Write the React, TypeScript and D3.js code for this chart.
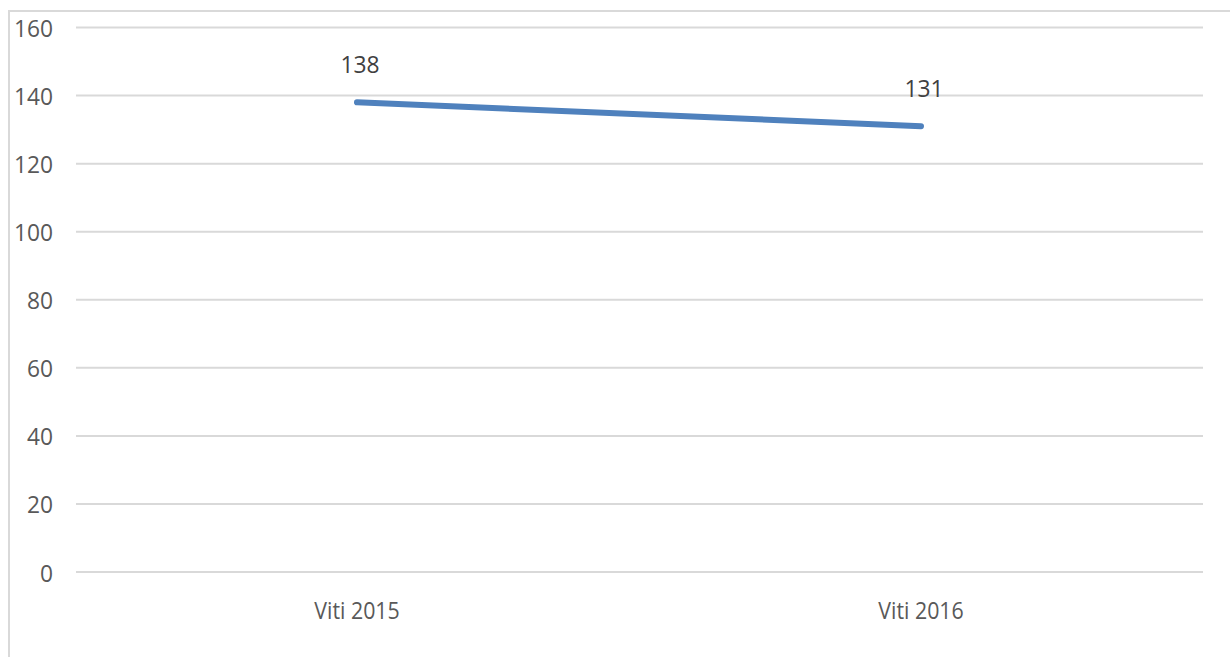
import React, { useEffect, useRef } from "react";
import * as d3 from "d3";

const categories = ["Viti 2015", "Viti 2016"];
const values = [138, 131];
const yTicks = [0, 20, 40, 60, 80, 100, 120, 140, 160];

const W = 1230;
const H = 657;

const App = () => {
  const ref = useRef<SVGSVGElement | null>(null);

  useEffect(() => {
    const svg = d3.select(ref.current);
    svg.selectAll("*").remove();

    const font = "'Open Sans', sans-serif";
    const x = d3.scaleBand().domain(categories).range([75, 1203]);
    const y = d3.scaleLinear().domain([0, 160]).range([572, 27.5]);

    // chart border (right/bottom fall outside the picture)
    svg
      .append("rect")
      .attr("x", 9)
      .attr("y", 11)
      .attr("width", 1260)
      .attr("height", 680)
      .attr("fill", "none")
      .attr("stroke", "#d9d9d9")
      .attr("stroke-width", 2);

    svg
      .append("g")
      .selectAll("line")
      .data(yTicks)
      .enter()
      .append("line")
      .attr("x1", 76)
      .attr("x2", 1203)
      .attr("y1", (d) => y(d))
      .attr("y2", (d) => y(d))
      .attr("stroke", "#d9d9d9")
      .attr("stroke-width", 2);

    svg
      .append("g")
      .selectAll("text")
      .data(yTicks)
      .enter()
      .append("text")
      .attr("transform", (d) => `translate(53,${y(d) + 9.5}) scale(0.95,1)`)
      .attr("text-anchor", "end")
      .attr("font-family", font)
      .attr("font-size", 24)
      .attr("fill", "#595959")
      .text((d) => d);

    svg
      .append("g")
      .selectAll("text")
      .data(categories)
      .enter()
      .append("text")
      .attr("transform", (d) => `translate(${x(d)! + x.bandwidth() / 2},619) scale(0.89,1)`)
      .attr("text-anchor", "middle")
      .attr("font-family", font)
      .attr("font-size", 24)
      .attr("fill", "#595959")
      .text((d) => d);

    const pts = categories.map((c, i) => [x(c)! + x.bandwidth() / 2, y(values[i])] as [number, number]);

    svg
      .append("path")
      .attr("d", d3.line()(pts))
      .attr("fill", "none")
      .attr("stroke", "#4f81bd")
      .attr("stroke-width", 6)
      .attr("stroke-linecap", "round");

    svg
      .append("g")
      .selectAll("text")
      .data(pts)
      .enter()
      .append("text")
      .attr("transform", (d) => `translate(${d[0] + 3},${d[1] - 29}) scale(0.95,1)`)
      .attr("text-anchor", "middle")
      .attr("font-family", font)
      .attr("font-size", 24)
      .attr("fill", "#404040")
      .text((d, i) => values[i]);
  }, []);

  return (
    <div style={{ position: "fixed", left: 0, top: 0, width: W, height: H, background: "#fff" }}>
      <svg ref={ref} width={W} height={H} style={{ display: "block" }}></svg>
    </div>
  );
};

export default App;
